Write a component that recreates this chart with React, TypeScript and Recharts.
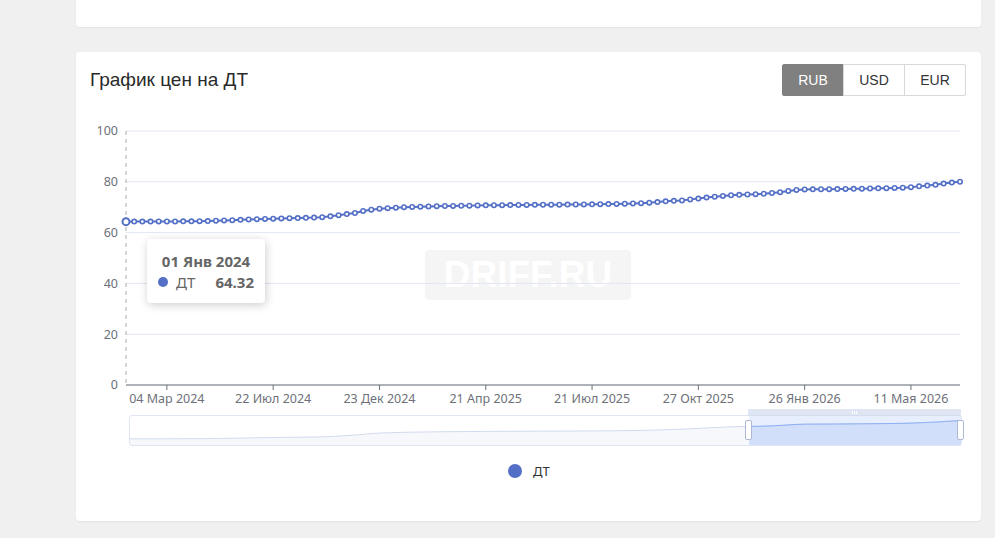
import {
  Area,
  AreaChart,
  CartesianGrid,
  Line,
  LineChart,
  ReferenceArea,
  Tooltip,
  XAxis,
  YAxis,
} from "recharts";

const dates = [
  "01 Янв 2024", "15 Янв 2024", "29 Янв 2024", "12 Фев 2024", "26 Фев 2024",
  "04 Мар 2024", "18 Мар 2024", "01 Апр 2024", "15 Апр 2024", "29 Апр 2024",
  "13 Мая 2024", "27 Мая 2024", "10 Июн 2024", "17 Июн 2024", "24 Июн 2024",
  "01 Июл 2024", "08 Июл 2024", "15 Июл 2024", "22 Июл 2024", "05 Авг 2024",
  "19 Авг 2024", "02 Сен 2024", "16 Сен 2024", "30 Сен 2024", "14 Окт 2024",
  "28 Окт 2024", "11 Ноя 2024", "25 Ноя 2024", "02 Дек 2024", "09 Дек 2024",
  "16 Дек 2024", "23 Дек 2024", "30 Дек 2024", "13 Янв 2025", "27 Янв 2025",
  "10 Фев 2025", "24 Фев 2025", "03 Мар 2025", "10 Мар 2025", "17 Мар 2025",
  "24 Мар 2025", "31 Мар 2025", "07 Апр 2025", "14 Апр 2025", "21 Апр 2025",
  "28 Апр 2025", "05 Мая 2025", "12 Мая 2025", "19 Мая 2025", "26 Мая 2025",
  "02 Июн 2025", "09 Июн 2025", "16 Июн 2025", "23 Июн 2025", "30 Июн 2025",
  "07 Июл 2025", "14 Июл 2025", "21 Июл 2025", "28 Июл 2025", "04 Авг 2025",
  "11 Авг 2025", "18 Авг 2025", "25 Авг 2025", "01 Сен 2025", "08 Сен 2025",
  "15 Сен 2025", "22 Сен 2025", "29 Сен 2025", "06 Окт 2025", "13 Окт 2025",
  "27 Окт 2025", "03 Ноя 2025", "10 Ноя 2025", "17 Ноя 2025", "24 Ноя 2025",
  "01 Дек 2025", "08 Дек 2025", "15 Дек 2025", "22 Дек 2025", "29 Дек 2025",
  "05 Янв 2026", "12 Янв 2026", "19 Янв 2026", "26 Янв 2026", "02 Фев 2026",
  "09 Фев 2026", "16 Фев 2026", "23 Фев 2026", "02 Мар 2026", "09 Мар 2026",
  "16 Мар 2026", "23 Мар 2026", "30 Мар 2026", "06 Апр 2026", "13 Апр 2026",
  "27 Апр 2026", "11 Мая 2026", "18 Мая 2026", "25 Мая 2026", "01 Июн 2026",
  "08 Июн 2026", "15 Июн 2026", "22 Июн 2026",
];

const prices = [
  64.32, 64.35, 64.33, 64.36, 64.38, 64.4, 64.41, 64.43, 64.45, 64.48,
  64.55, 64.68, 64.79, 64.9, 65.02, 65.18, 65.29, 65.4, 65.5, 65.58,
  65.66, 65.72, 65.8, 65.9, 66.08, 66.4, 66.86, 67.3, 67.72, 68.5,
  69.02, 69.4, 69.62, 69.8, 70.0, 70.1, 70.2, 70.3, 70.4, 70.48,
  70.52, 70.58, 70.62, 70.68, 70.72, 70.76, 70.8, 70.82, 70.86, 70.9,
  70.92, 70.96, 70.98, 71.0, 71.02, 71.06, 71.1, 71.12, 71.18, 71.22,
  71.3, 71.38, 71.48, 71.6, 71.78, 72.02, 72.3, 72.5, 72.68, 73.08,
  73.4, 73.78, 74.12, 74.44, 74.7, 74.88, 75.0, 75.12, 75.3, 75.6,
  75.92, 76.4, 76.8, 76.98, 77.02, 77.06, 77.1, 77.12, 77.18, 77.22,
  77.3, 77.36, 77.42, 77.5, 77.58, 77.7, 77.9, 78.2, 78.5, 78.8,
  79.3, 79.68, 80.02,
];

const tickDates = [
  "04 Мар 2024", "22 Июл 2024", "23 Дек 2024", "21 Апр 2025",
  "21 Июл 2025", "27 Окт 2025", "26 Янв 2026", "11 Мая 2026",
];
const yTicks = [0, 20, 40, 60, 80, 100];
const currencies = ["RUB", "USD", "EUR"];
const activeCurrency = "RUB";
const seriesName = "ДТ";
const zoomStartIndex = 76;

const rows = dates.map((date, i) => ({
  date,
  price: prices[i],
  sel: i >= zoomStartIndex ? prices[i] : null,
}));

const BLUE = "#5470c6";
const AXIS = "#6e7079";
const chartFont = '"Noto Sans", sans-serif';

function TipBox({ active, payload, label }: any) {
  if (!active || !payload || !payload.length) return null;
  return (
    <div
      style={{
        background: "#fff",
        borderRadius: 4,
        boxShadow: "1px 2px 10px rgba(0,0,0,0.2)",
        padding: "12px 11px 10px 11px",
        width: 96,
        fontFamily: chartFont,
        color: "#666",
        fontSize: 15,
      }}
    >
      <div style={{ fontWeight: 700, textAlign: "center", lineHeight: "20px" }}>{label}</div>
      <div style={{ display: "flex", alignItems: "center", lineHeight: "22px" }}>
        <span
          style={{
            width: 10,
            height: 10,
            borderRadius: 5,
            background: BLUE,
            marginRight: 8,
            display: "inline-block",
          }}
        />
        <span>{seriesName}</span>
        <span style={{ marginLeft: "auto", fontWeight: 700 }}>{payload[0].value.toFixed(2)}</span>
      </div>
    </div>
  );
}

export default function App() {
  return (
    <div
      style={{
        position: "fixed",
        left: 0,
        top: 0,
        width: 995,
        height: 538,
        background: "#f0f0f0",
        overflow: "hidden",
      }}
    >
      {/* previous card */}
      <div
        style={{
          position: "absolute",
          left: 76,
          top: -10,
          width: 905,
          height: 37,
          background: "#fff",
          borderRadius: 4,
          boxShadow: "0 1px 2px rgba(0,0,0,0.06)",
        }}
      />
      {/* chart card */}
      <div
        style={{
          position: "absolute",
          left: 76,
          top: 52,
          width: 905,
          height: 469,
          background: "#fff",
          borderRadius: 4,
          boxShadow: "0 1px 2px rgba(0,0,0,0.06)",
        }}
      />
      <div
        style={{
          position: "absolute",
          left: 90,
          top: 70,
          fontFamily: '"Liberation Sans", Arial, sans-serif',
          fontSize: 19,
          lineHeight: "19px",
          color: "#2a2a2a",
        }}
      >
        График цен на {seriesName}
      </div>
      <div style={{ position: "absolute", left: 782, top: 64, display: "flex" }}>
        {currencies.map((c, i) => (
          <div
            key={c}
            style={{
              width: 60,
              height: 30,
              lineHeight: "30px",
              textAlign: "center",
              fontFamily: '"Liberation Sans", Arial, sans-serif',
              fontSize: 14,
              border: "1px solid " + (c === activeCurrency ? "#808080" : "#d9d9d9"),
              marginLeft: i === 0 ? 0 : -1,
              background: c === activeCurrency ? "#808080" : "#fff",
              color: c === activeCurrency ? "#fff" : "#333",
              borderRadius: i === 0 ? "2px 0 0 2px" : i === 2 ? "0 2px 2px 0" : 0,
            }}
          >
            {c}
          </div>
        ))}
      </div>
      {/* watermark */}
      <div
        style={{
          position: "absolute",
          left: 425,
          top: 250,
          width: 206,
          height: 50,
          background: "rgba(0,0,0,0.04)",
          borderRadius: 4,
          color: "#fff",
          fontFamily: '"Liberation Sans", Arial, sans-serif',
          fontWeight: 700,
          fontSize: 37,
          lineHeight: "50px",
          textAlign: "center",
        }}
      >
        DRIFF.RU
      </div>
      <div style={{ position: "absolute", left: 76, top: 100 }}>
        <LineChart
          width={905}
          height={315}
          data={rows}
          margin={{ top: 31, right: 21, bottom: 0, left: 0 }}
          style={{ fontFamily: chartFont }}
        >
          <CartesianGrid vertical={false} stroke="#e0e6f1" />
          <XAxis
            dataKey="date"
            scale="point"
            ticks={tickDates}
            interval={0}
            height={30}
            stroke={AXIS}
            tickSize={5}
            tickMargin={4}
            tick={{ fill: AXIS, fontSize: 12.5 }}
          />
          <YAxis
            width={50}
            domain={[0, 100]}
            ticks={yTicks}
            axisLine={false}
            tickLine={false}
            tickSize={6}
            tickMargin={2}
            tick={{ fill: AXIS, fontSize: 12.5 }}
          />
          <Tooltip
            defaultIndex={0}
            content={<TipBox />}
            position={{ x: 71, y: 139 }}
            cursor={{ stroke: "#aaa", strokeDasharray: "4 4", strokeWidth: 1 }}
            isAnimationActive={false}
          />
          <Line
            type="linear"
            dataKey="price"
            name={seriesName}
            stroke={BLUE}
            strokeWidth={2}
            dot={{ r: 2.2, fill: "#fff", stroke: BLUE, strokeWidth: 1.6 }}
            activeDot={{ r: 3.5, fill: "#fff", stroke: BLUE, strokeWidth: 2 }}
            isAnimationActive={false}
          />
        </LineChart>
      </div>
      {/* data zoom panorama */}
      <div style={{ position: "absolute", left: 130, top: 416 }}>
        <AreaChart width={831} height={29} data={rows} margin={{ top: 0, right: 0, bottom: 0, left: 0 }}>
          <XAxis dataKey="date" scale="point" hide />
          <YAxis domain={[59, 84]} hide />
          <ReferenceArea
            x1={dates[zoomStartIndex]}
            x2={dates[dates.length - 1]}
            fill="rgba(135,175,255,0.2)"
            fillOpacity={1}
            stroke="none"
          />
          <Area
            type="linear"
            dataKey="price"
            stroke="#d2dbee"
            strokeWidth={1}
            fill="#d2dbee"
            fillOpacity={0.2}
            dot={false}
            activeDot={false}
            isAnimationActive={false}
          />
          <Area
            type="linear"
            dataKey="sel"
            stroke="#8fb0f7"
            strokeWidth={1}
            fill="#8fb0f7"
            fillOpacity={0.2}
            dot={false}
            activeDot={false}
            isAnimationActive={false}
          />
        </AreaChart>
      </div>
      <div
        style={{
          position: "absolute",
          left: 129,
          top: 415,
          width: 831,
          height: 29,
          border: "1px solid #dfe5f2",
          borderRadius: 3,
        }}
      />
      <div
        style={{
          position: "absolute",
          left: 748,
          top: 409,
          width: 213,
          height: 7,
          background: "#d2dbee",
          opacity: 0.7,
          display: "flex",
          justifyContent: "center",
          alignItems: "center",
          gap: 1,
        }}
      >
        {[0, 1, 2].map((k) => (
          <span key={k} style={{ width: 1, height: 3, background: "#fff" }} />
        ))}
      </div>
      {[745, 957].map((x) => (
        <div
          key={x}
          style={{
            position: "absolute",
            left: x,
            top: 420,
            width: 5,
            height: 18,
            background: "#fff",
            border: "1px solid #acb8d1",
            borderRadius: 2,
          }}
        />
      ))}
      {/* legend */}
      <div
        style={{
          position: "absolute",
          left: 508,
          top: 464,
          width: 14,
          height: 14,
          borderRadius: 7,
          background: BLUE,
        }}
      />
      <div
        style={{
          position: "absolute",
          left: 533,
          top: 462,
          fontFamily: chartFont,
          fontSize: 13,
          lineHeight: "18px",
          color: "#333",
        }}
      >
        {seriesName}
      </div>
    </div>
  );
}
